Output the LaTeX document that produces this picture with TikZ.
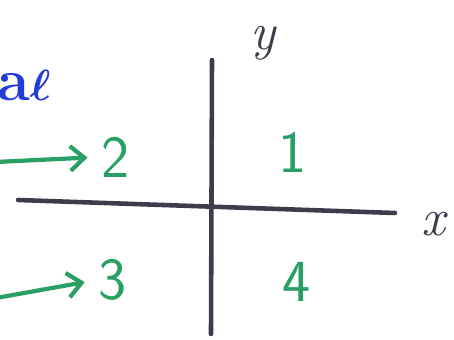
\documentclass[tikz,border=0pt]{standalone}
\usetikzlibrary{arrows.meta, positioning, calc}
\definecolor{penGreen}{RGB}{40,160,100}
\definecolor{penBlue}{RGB}{35,60,215}
\definecolor{penDark}{RGB}{60,60,75}

\begin{document}
\begin{tikzpicture}[
 x=0.02cm, y=-0.02cm,
 quad/.style={text=penGreen, font=\fontsize{34}{38}\selectfont\sffamily, inner sep=1pt},
 axislbl/.style={text=penDark, font=\fontsize{30}{34}\selectfont\itshape},
 axis/.style={penDark, line width=2.6pt, line cap=round},
 arrow/.style={-{Straight Barb[length=8pt,width=14pt]}, penGreen, line width=2.4pt, shorten >=7pt}
]
\useasboundingbox (0,0) rectangle (454,340);

% axes
\coordinate (ytop) at (212,60);
\coordinate (ybot) at (211,334);
\coordinate (xleft) at (18,200);
\coordinate (xright) at (395,213);
\draw[axis] (ytop) -- (ybot);
\draw[axis] (xleft) -- (xright);

\node[axislbl] (ylbl) at (263,43) {y};
\node[axislbl] (xlbl) at (433,224) {x};

% quadrants
\node[quad] (q1) at (293,152) {1};
\node[quad] (q2) at (116,157) {2};
\node[quad] (q3) at (113,280) {3};
\node[quad] (q4) at (297,282) {4};

\node[text=penBlue, font=\fontsize{34}{38}\selectfont\bfseries\boldmath] (lbl) at (24,86) {a$\ell$};

\coordinate (s2) at (-4,162);
\coordinate (s3) at (-4,298);
\draw[arrow] (s2) -- (q2.west);
\draw[arrow] (s3) -- (q3.west);
\end{tikzpicture}
\end{document}
